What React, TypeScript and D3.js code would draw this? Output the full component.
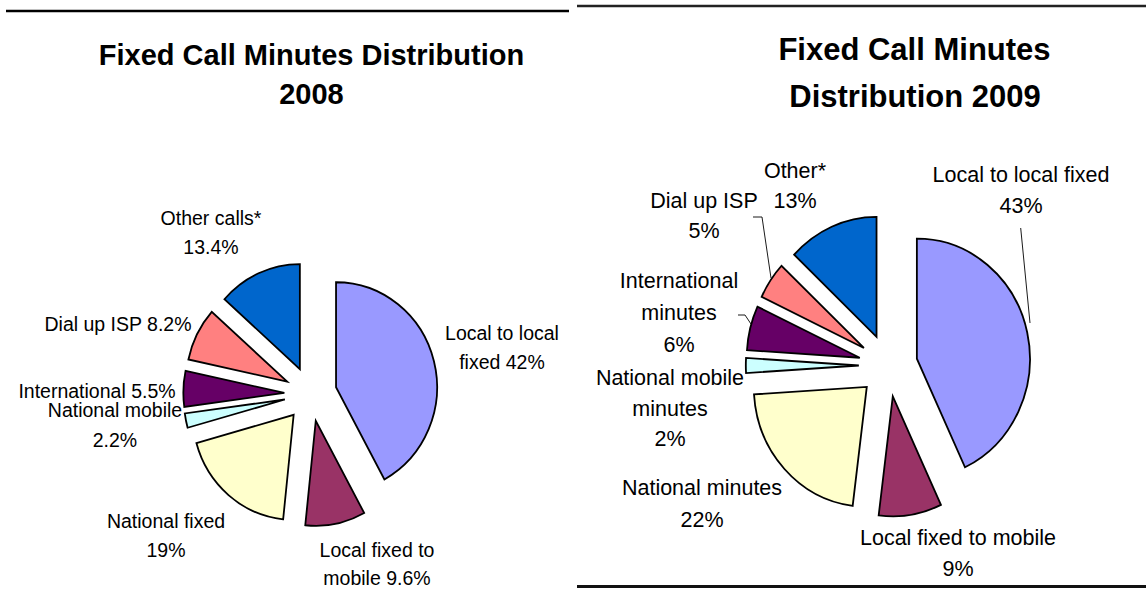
import React from "react";
import * as d3 from "d3";

// ---- Data ----
const categories2008 = [
  "Local to local fixed",
  "Local fixed to mobile",
  "National fixed",
  "National mobile",
  "International",
  "Dial up ISP",
  "Other calls*",
];
const values2008 = [42, 9.6, 19, 2.2, 5.5, 8.2, 13.4];

const categories2009 = [
  "Local to local fixed",
  "Local fixed to mobile",
  "National minutes",
  "National mobile minutes",
  "International minutes",
  "Dial up ISP",
  "Other*",
];
const values2009 = [43, 9, 22, 2, 6, 5, 13];

const sliceColors = ["#9999FF", "#993366", "#FFFFCC", "#CCFFFF", "#660066", "#FF8080", "#0066CC"];

const labelLines2008 = [
  ["Local to local", "fixed 42%"],
  ["Local fixed to", "mobile 9.6%"],
  ["National fixed", "19%"],
  ["National mobile", "2.2%"],
  ["International 5.5%"],
  ["Dial up ISP 8.2%"],
  ["Other calls*", "13.4%"],
];
const labelLines2009 = [
  ["Local to local fixed", "43%"],
  ["Local fixed to mobile", "9%"],
  ["National minutes", "22%"],
  ["National mobile", "minutes", "2%"],
  ["International", "minutes", "6%"],
  ["Dial up ISP", "5%"],
  ["Other*", "13%"],
];

// ---- Layout (positions of labels: x center, first baseline, line step) ----
const labelPos2008 = [
  { x: 502, y: 340, dy: 29 },
  { x: 377, y: 557, dy: 28 },
  { x: 166, y: 528, dy: 29 },
  { x: 115, y: 417, dy: 30 },
  { x: 97, y: 398, dy: 29 },
  { x: 118, y: 331, dy: 29 },
  { x: 211, y: 225, dy: 29 },
];
const labelPos2009 = [
  { x: 1021, y: 182, dy: 31 },
  { x: 958, y: 545, dy: 31 },
  { x: 702, y: 495, dy: 32 },
  { x: 670, y: 385, dy: 30.5 },
  { x: 679, y: 288, dy: 32 },
  { x: 704, y: 208, dy: 30 },
  { x: 795, y: 178, dy: 30 },
];

const FONT = "'Liberation Sans', Arial, Helvetica, sans-serif";

type PieProps = {
  values: number[];
  cx: number;
  cy: number;
  rx: number;
  ry: number;
  explode: number;
};

function ExplodedPie({ values, cx, cy, rx, ry, explode }: PieProps) {
  const pie = d3
    .pie<number>()
    .sort(null)
    .value((d) => d)
    .startAngle(0)
    .endAngle(2 * Math.PI);
  const arcs = pie(values);
  const arcGen = d3.arc<d3.PieArcDatum<number>>().innerRadius(0).outerRadius(1);
  return (
    <g>
      {arcs.map((a, i) => {
        const mid = (a.startAngle + a.endAngle) / 2;
        const tx = cx + explode * rx * Math.sin(mid);
        const ty = cy - explode * ry * Math.cos(mid);
        return (
          <g key={i} transform={`translate(${tx},${ty}) scale(${rx},${ry})`}>
            <path
              d={arcGen(a) || ""}
              fill={sliceColors[i]}
              stroke="#000"
              strokeWidth={1.8}
              strokeLinejoin="miter"
              vectorEffect="non-scaling-stroke"
            />
          </g>
        );
      })}
    </g>
  );
}

function Labels({
  lines,
  pos,
  size,
}: {
  lines: string[][];
  pos: { x: number; y: number; dy: number }[];
  size: number;
}) {
  return (
    <g fontFamily={FONT} fontSize={size} fill="#000" textAnchor="middle">
      {lines.map((ls, i) => (
        <text key={i}>
          {ls.map((l, j) => (
            <tspan key={j} x={pos[i].x} y={pos[i].y + j * pos[i].dy}>
              {l}
            </tspan>
          ))}
        </text>
      ))}
    </g>
  );
}

export default function App() {
  return (
    <svg
      width={1146}
      height={597}
      viewBox="0 0 1146 597"
      style={{ position: "absolute", left: 0, top: 0, background: "#fff" }}
    >
      <rect x={0} y={0} width={1146} height={597} fill="#fff" />
      {/* Frame lines */}
      <line x1={6} x2={569} y1={11} y2={11} stroke="#000" strokeWidth={2.5} />
      <line x1={577} x2={1146} y1={6} y2={6} stroke="#222" strokeWidth={2.5} />
      <line x1={577} x2={1146} y1={586.5} y2={586.5} stroke="#111" strokeWidth={2.8} />

      {/* Titles */}
      <g fontFamily={FONT} fontWeight="bold" fill="#000" textAnchor="middle">
        <text x={311.5} y={65} fontSize={29}>
          Fixed Call Minutes Distribution
        </text>
        <text x={311.5} y={104} fontSize={29}>
          2008
        </text>
        <text x={914.5} y={60} fontSize={31}>
          Fixed Call Minutes
        </text>
        <text x={915} y={107} fontSize={31}>
          Distribution 2009
        </text>
      </g>

      {/* 2008 pie */}
      <ExplodedPie values={values2008} cx={310.6} cy={394} rx={101} ry={105} explode={0.26} />
      <Labels lines={labelLines2008} pos={labelPos2008} size={19.5} />

      {/* 2009 pie */}
      <ExplodedPie values={values2009} cx={888.2} cy={365.5} rx={113} ry={120} explode={0.26} />
      <Labels lines={labelLines2009} pos={labelPos2009} size={21.5} />

      {/* Leader lines 2009 */}
      <g stroke="#000" strokeWidth={0.9} fill="none">
        <polyline points="1020.7,228 1030,323" />
        <polyline points="753,217 762,217 771,278" />
        <polyline points="738,315 745,315 751,324" />
      </g>
    </svg>
  );
}
